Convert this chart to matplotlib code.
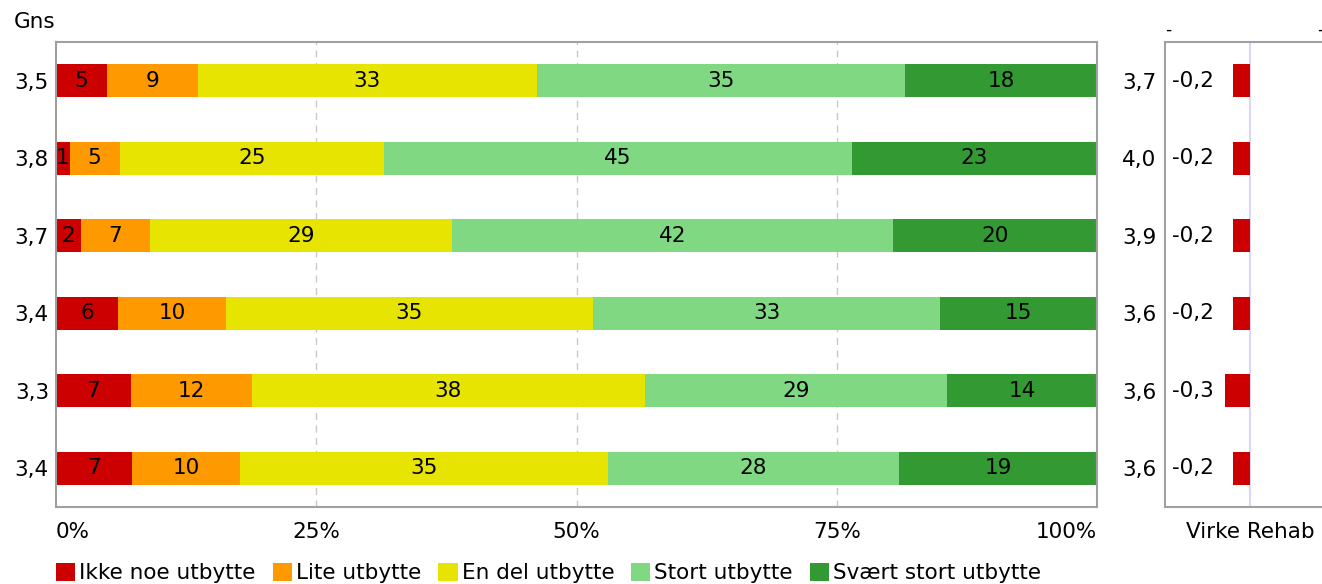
import matplotlib.pyplot as plt
import numpy as np

# data (top row first)
gns = ["3,5", "3,8", "3,7", "3,4", "3,3", "3,4"]
ref_gns = ["3,7", "4,0", "3,9", "3,6", "3,6", "3,6"]
diff = [-0.2, -0.2, -0.2, -0.2, -0.3, -0.2]
categories = ["Ikke noe utbytte", "Lite utbytte", "En del utbytte", "Stort utbytte", "Svært stort utbytte"]
ikke = [4.9, 1.3, 2.4, 6.0, 7.2, 7.3]
lite = [8.7, 4.8, 6.6, 10.3, 11.6, 10.4]
endel = [32.6, 25.4, 29.0, 35.3, 37.8, 35.3]
stort = [35.4, 45.0, 42.4, 33.3, 29.0, 28.0]
svart = [18.4, 23.4, 19.6, 15.1, 14.4, 19.0]
xticks = ["0%", "25%", "50%", "75%", "100%"]
ref_name = "Virke Rehab"

colors = ["#cc0000", "#ff9900", "#e6e400", "#80d982", "#339933"]
series = [ikke, lite, endel, stort, svart]

W, H = 1322, 584
fs = 15.5
fig = plt.figure(figsize=(W / 100, H / 100), dpi=100)
plt.rcParams['font.family'] = 'DejaVu Sans'

ax = fig.add_axes([56 / W, 1 - 507 / H, (1097 - 56) / W, (507 - 42) / H])
y = np.arange(len(gns))
left = np.zeros(len(gns))
for vals, c, name in zip(series, colors, categories):
    vals = np.array(vals)
    ax.barh(y, vals, left=left, height=0.43, color=c, label=name)
    for yi, (l, v) in enumerate(zip(left, vals)):
        ax.text(l + v / 2, yi, f"{round(v):d}", ha="center", va="center", fontsize=fs)
    left += vals

ax.set_xlim(0, 100)
ax.set_ylim(len(gns) - 0.5, -0.5)
ax.set_yticks(y)
ax.set_yticklabels(gns, fontsize=fs)
ax.set_xticks([0, 25, 50, 75, 100])
ax.set_xticklabels(xticks, fontsize=fs)
xl = ax.get_xticklabels()
xl[0].set_ha("left")
xl[-1].set_ha("right")
ax.tick_params(axis="y", length=0, pad=5)
ax.tick_params(axis="x", length=0, pad=11)
for x in [25, 50, 75]:
    ax.axvline(x, color="#c8c8c8", lw=1, ls=(0, (5, 4)), zorder=0)
for s in ax.spines.values():
    s.set_color("#a0a0a0")
    s.set_linewidth(1.5)
fig.text(14 / W, 1 - 22 / H, "Gns", fontsize=fs, va="center", ha="left")

leg = ax.legend(loc="upper left", bbox_to_anchor=(0, -0.12), ncol=5, frameon=False,
                fontsize=fs, handlelength=0.9, handleheight=0.9, handletextpad=0.19,
                columnspacing=0.78, borderaxespad=0, borderpad=0)

# right panel
ax2 = fig.add_axes([1165 / W, 1 - 507 / H, (1335 - 1165) / W, (507 - 42) / H])
ax2.barh(y, diff, height=0.43, color="#cc0000")
ax2.axvline(0, color="#d8d8f4", lw=1.5, zorder=0)
ax2.set_xlim(-1, 1)
ax2.set_ylim(len(gns) - 0.5, -0.5)
ax2.set_yticks(y)
ax2.set_yticklabels(ref_gns, fontsize=fs)
ax2.set_xticks([0])
ax2.set_xticklabels([ref_name], fontsize=fs)
ax2.tick_params(axis="y", length=0, pad=6)
ax2.tick_params(axis="x", length=0, pad=11)
for yi, d in enumerate(diff):
    ax2.text(0.04, yi, f"{d:.1f}".replace(".", ","), transform=ax2.get_yaxis_transform(),
             ha="left", va="center", fontsize=fs)
for s in ax2.spines.values():
    s.set_color("#a0a0a0")
    s.set_linewidth(1.5)
fig.text(1168 / W, 1 - 30 / H, "-", fontsize=fs * 0.8, ha="center", va="center")
fig.text(1320 / W, 1 - 30 / H, "-", fontsize=fs * 0.8, ha="center", va="center")

fig.savefig("out.png", dpi=100)
